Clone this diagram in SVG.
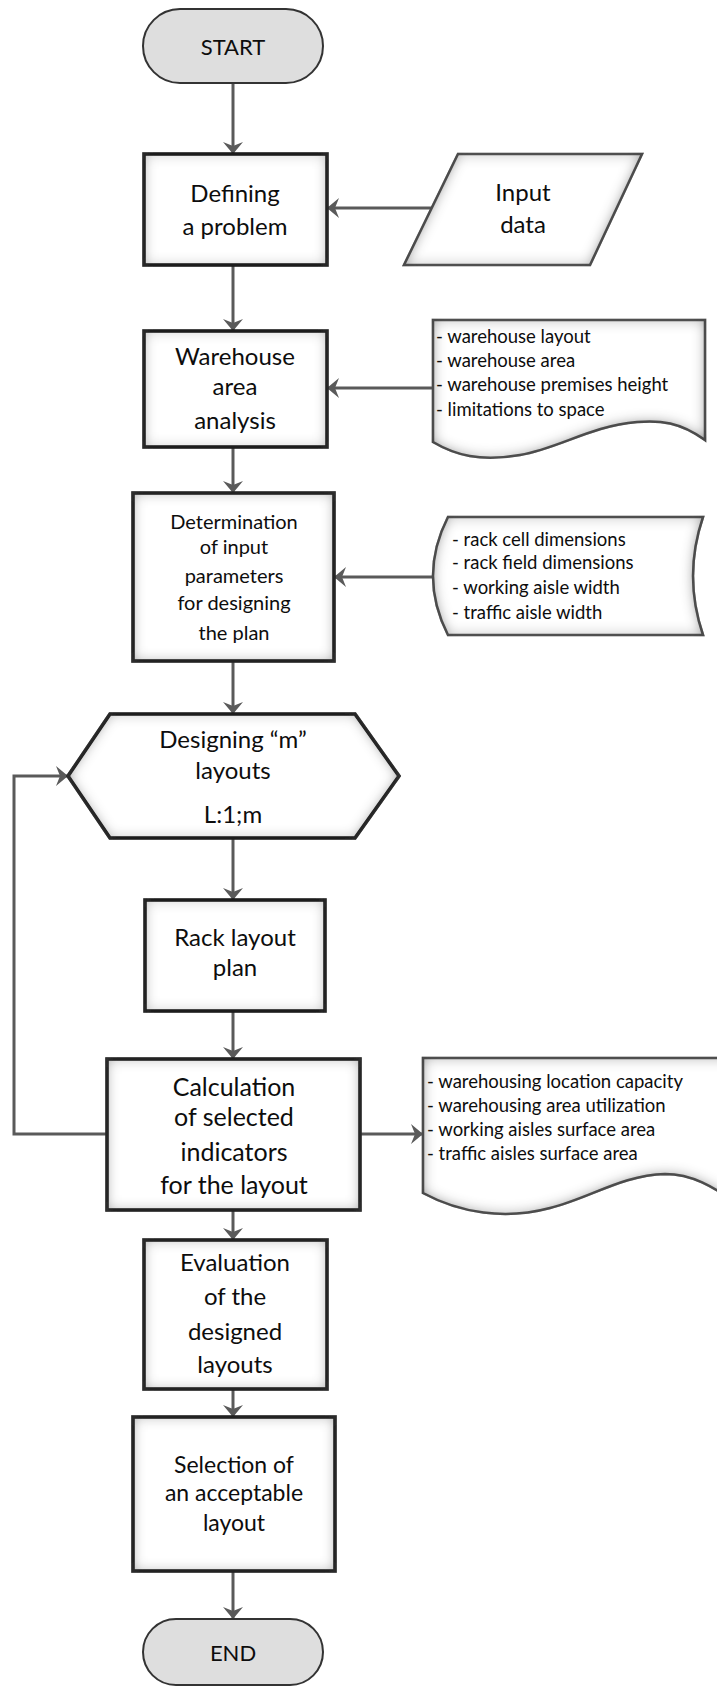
<svg xmlns="http://www.w3.org/2000/svg" width="717" height="1686" viewBox="0 0 717 1686">
<defs>
<style>
.t{font-family:Lato,"Noto Sans",sans-serif;fill:#0d0d0d;text-anchor:middle}
.big{font-size:24px}
.mid{font-size:20px}
.sm{font-family:Lato,"Noto Sans",sans-serif;fill:#0d0d0d;font-size:18.5px}
.box{fill:#fff;stroke:#111;stroke-width:3.5;filter:url(#inner)}
.doc{fill:#fff;stroke:#555;stroke-width:2.5;filter:url(#inner)}
.term{fill:#dedede;stroke:#333;stroke-width:2}
.c{fill:none;stroke:#5a5a5a;stroke-width:3;marker-end:url(#ah)}
</style>
<filter id="inner" x="-5%" y="-5%" width="110%" height="110%">
<feFlood flood-color="#404040"/>
<feComposite in2="SourceAlpha" operator="out"/>
<feGaussianBlur stdDeviation="7"/>
<feComposite in2="SourceAlpha" operator="in" result="sh"/>
<feMerge><feMergeNode in="SourceGraphic"/><feMergeNode in="sh"/></feMerge>
</filter>
<marker id="ah" markerUnits="userSpaceOnUse" markerWidth="12" markerHeight="20" viewBox="0 0 12 20" refX="12" refY="10" orient="auto">
<path d="M0,0 L12,10 L0,20 L4,10 Z" fill="#5a5a5a"/>
</marker>
</defs>
<rect width="717" height="1686" fill="#fff"/>

<g id="connectors">
<path class="c" d="M233,83 V154"/>
<path class="c" d="M433,208 H327"/>
<path class="c" d="M233,265 V331"/>
<path class="c" d="M433,388 H327"/>
<path class="c" d="M233,447 V493"/>
<path class="c" d="M433,577 H334"/>
<path class="c" d="M233,661 V714"/>
<path class="c" d="M233,838 V900"/>
<path class="c" d="M233,1011 V1059"/>
<path class="c" d="M360,1134 H423"/>
<path class="c" d="M107,1134 H14 V776 H68"/>
<path class="c" d="M233,1210 V1240"/>
<path class="c" d="M233,1389 V1417"/>
<path class="c" d="M233,1571 V1619"/>
</g>

<g id="start">
<rect class="term" x="143" y="9" width="180" height="74" rx="37"/>
<text class="t" x="233" y="55" font-size="22">START</text>
</g>

<g id="defining">
<rect class="box" x="144" y="154" width="183" height="111"/>
<text class="t big" x="235" y="202">Defining</text>
<text class="t big" x="235" y="235">a problem</text>
</g>

<g id="input">
<path class="doc" d="M458,154 H642 L590,265 H404 Z"/>
<text class="t big" x="523" y="201">Input</text>
<text class="t big" x="523" y="233">data</text>
</g>

<g id="warehouse">
<rect class="box" x="144" y="331" width="183" height="116"/>
<text class="t big" x="235" y="365">Warehouse</text>
<text class="t big" x="235" y="395">area</text>
<text class="t big" x="235" y="429">analysis</text>
</g>

<g id="warehouse-doc">
<path class="doc" d="M433,320 H705 V440 C680,422 660,420 637,422 C590,426 560,448 520,455 C480,462 455,455 433,442 Z"/>
<text class="sm" x="436" y="343">- warehouse layout</text>
<text class="sm" x="436" y="367">- warehouse area</text>
<text class="sm" x="436" y="391">- warehouse premises height</text>
<text class="sm" x="436" y="416">- limitations to space</text>
</g>

<g id="determination">
<rect class="box" x="133" y="493" width="201" height="168"/>
<text class="t mid" x="234" y="529">Determination</text>
<text class="t mid" x="234" y="554">of input</text>
<text class="t mid" x="234" y="583">parameters</text>
<text class="t mid" x="234" y="610">for designing</text>
<text class="t mid" x="234" y="640">the plan</text>
</g>

<g id="rack-doc">
<path class="doc" d="M448,517 H703 Q683,576 703,635 H448 Q418,576 448,517 Z"/>
<text class="sm" x="452" y="546">- rack cell dimensions</text>
<text class="sm" x="452" y="569">- rack field  dimensions</text>
<text class="sm" x="452" y="594">- working aisle width</text>
<text class="sm" x="452" y="619">- traffic aisle width</text>
</g>

<g id="designing">
<path class="box" d="M110,714 H355 L399,776 L355,838 H110 L68,776 Z"/>
<text class="t big" x="233" y="748">Designing “m”</text>
<text class="t big" x="233" y="779">layouts</text>
<text class="t big" x="233" y="823">L:1;m</text>
</g>

<g id="rack">
<rect class="box" x="145" y="900" width="180" height="111"/>
<text class="t big" x="235" y="946">Rack layout</text>
<text class="t big" x="235" y="976">plan</text>
</g>

<g id="calculation">
<rect class="box" x="107" y="1059" width="253" height="151"/>
<text class="t" font-size="25" x="234" y="1096">Calculation</text>
<text class="t" font-size="25" x="234" y="1126">of selected</text>
<text class="t" font-size="25" x="234" y="1161">indicators</text>
<text class="t" font-size="25" x="234" y="1194">for the layout</text>
</g>

<g id="calc-doc">
<path class="doc" d="M423,1058 H740 V1205 C712,1186 692,1174 665,1174 C622,1175 590,1198 550,1208 C505,1220 460,1213 423,1193 Z"/>
<text class="sm" x="427" y="1088">- warehousing location capacity</text>
<text class="sm" x="427" y="1112">- warehousing area utilization</text>
<text class="sm" x="427" y="1136">- working aisles surface area</text>
<text class="sm" x="427" y="1160">- traffic aisles surface area</text>
</g>

<g id="evaluation">
<rect class="box" x="144" y="1240" width="183" height="149"/>
<text class="t big" x="235" y="1271">Evaluation</text>
<text class="t big" x="235" y="1305">of the</text>
<text class="t big" x="235" y="1340">designed</text>
<text class="t big" x="235" y="1373">layouts</text>
</g>

<g id="selection">
<rect class="box" x="133" y="1417" width="202" height="154"/>
<text class="t" font-size="23" x="234" y="1473">Selection of</text>
<text class="t" font-size="23" x="234" y="1501">an acceptable</text>
<text class="t" font-size="23" x="234" y="1531">layout</text>
</g>

<g id="end">
<rect class="term" x="143" y="1619" width="180" height="66" rx="33"/>
<text class="t" x="233" y="1661" font-size="22">END</text>
</g>
</svg>
